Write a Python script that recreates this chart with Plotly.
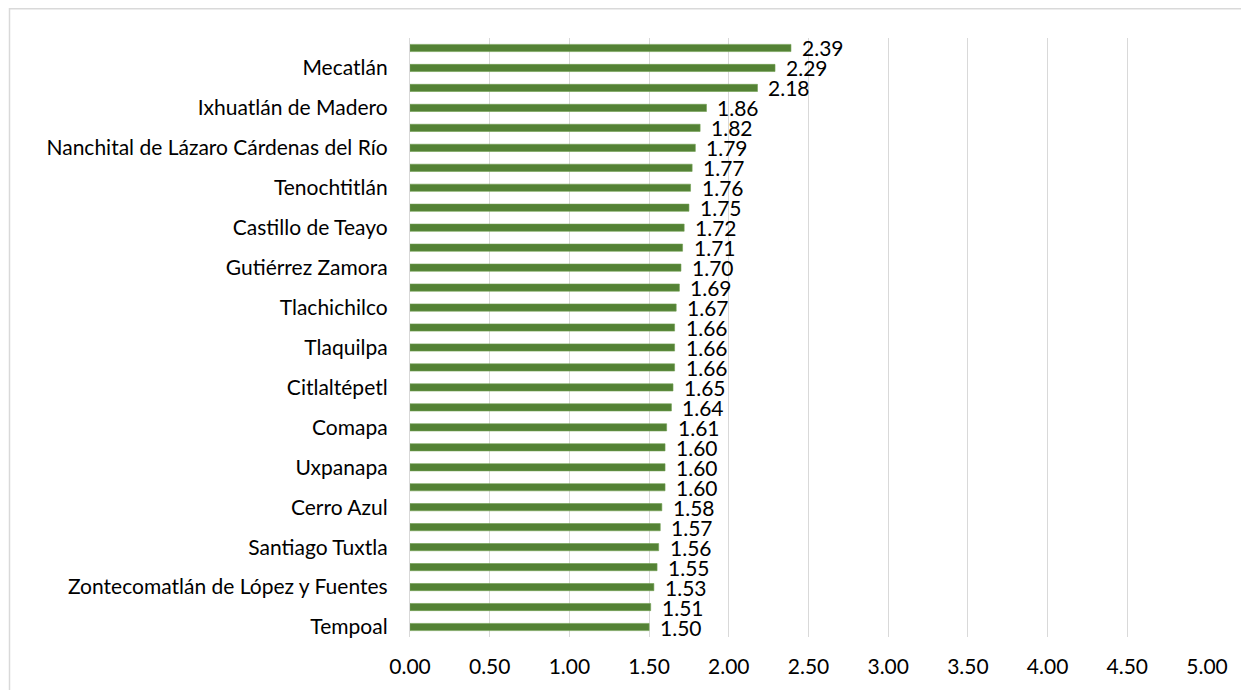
import plotly.graph_objects as go

# Category labels (only every other label is shown on the axis)
labels = ["", "Mecatlán", "", "Ixhuatlán de Madero", "", "Nanchital de Lázaro Cárdenas del Río",
          "", "Tenochtitlán", "", "Castillo de Teayo", "", "Gutiérrez Zamora",
          "", "Tlachichilco", "", "Tlaquilpa", "", "Citlaltépetl",
          "", "Comapa", "", "Uxpanapa", "", "Cerro Azul",
          "", "Santiago Tuxtla", "", "Zontecomatlán de López y Fuentes", "", "Tempoal"]
values = [2.39, 2.29, 2.18, 1.86, 1.82, 1.79, 1.77, 1.76, 1.75, 1.72,
          1.71, 1.70, 1.69, 1.67, 1.66, 1.66, 1.66, 1.65, 1.64, 1.61,
          1.60, 1.60, 1.60, 1.58, 1.57, 1.56, 1.55, 1.53, 1.51, 1.50]
x_ticks = [0, 0.5, 1, 1.5, 2, 2.5, 3, 3.5, 4, 4.5, 5]

positions = list(range(len(values)))
FONT = "Lato, 'Open Sans', sans-serif"
FS = 21
W, H = 1241, 682
ML, MR, MT, MB = 402, 42, 30, 48

fig = go.Figure()
fig.add_trace(go.Bar(
    x=values, y=positions, orientation="h",
    marker=dict(color="#548235", line=dict(color="#70a050", width=0.6)),
    width=0.36, hoverinfo="x+y",
))

for p, v in zip(positions, values):
    fig.add_annotation(x=v, y=p, xref="x", yref="y", text=f"{v:.2f}",
                       showarrow=False, xanchor="left", yanchor="middle",
                       xshift=9, font=dict(family=FONT, size=FS, color="#000000"))

pw = W - ML - MR
ph = H - MT - MB
def px_to_paper_x(px):
    return (px - ML) / pw
def px_to_paper_y(py):
    return 1 - (py - MT) / ph

fig.add_shape(type="rect", xref="paper", yref="paper",
              x0=px_to_paper_x(1.5), x1=px_to_paper_x(1239),
              y0=px_to_paper_y(700), y1=px_to_paper_y(0.5),
              line=dict(color="#d9d9d9", width=1.5), layer="below")

fig.update_layout(
    width=W, height=H,
    margin=dict(l=ML, r=MR, t=MT, b=MB),
    plot_bgcolor="white", paper_bgcolor="white",
    showlegend=False,
    font=dict(family=FONT, size=FS, color="#000000"),
    xaxis=dict(range=[0, 5], tickvals=x_ticks, ticktext=[f"{t:.2f}" for t in x_ticks],
               showgrid=True, gridcolor="#d9d9d9", gridwidth=1.3, zeroline=False,
               showline=False, ticks="", ticklabelstandoff=15, fixedrange=True),
    yaxis=dict(range=[29.5, -0.5], tickvals=positions, ticktext=labels,
               showgrid=False, zeroline=False, showline=True, linecolor="#d9d9d9",
               linewidth=1.3, ticks="", ticklabelstandoff=17, fixedrange=True),
)

fig.write_html("out.html")
